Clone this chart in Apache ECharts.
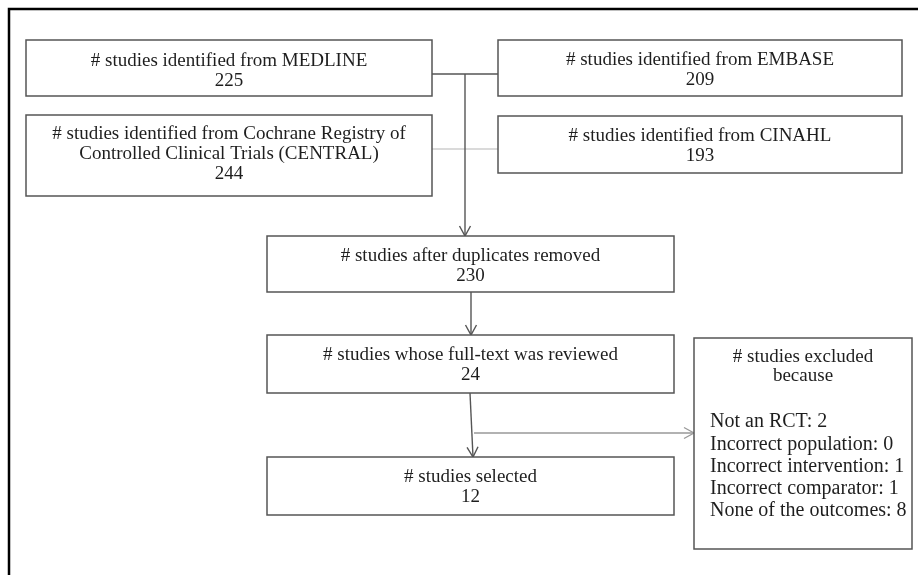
<!DOCTYPE html>
<html>
<head>
<meta charset="utf-8">
<script src="https://cdn.jsdelivr.net/npm/echarts@6/dist/echarts.min.js"></script>
<style>html,body{margin:0;padding:0;background:#fff}#c{width:918px;height:575px}</style>
</head>
<body>
<div id="c"></div>
<script>
// ---- data ----
const sourceNames = ['MEDLINE', 'EMBASE', 'Cochrane Registry of\nControlled Clinical Trials (CENTRAL)', 'CINAHL'];
const sourceCounts = [225, 209, 244, 193];
const stageLabels = ['# studies after duplicates removed', '# studies whose full-text was reviewed', '# studies selected'];
const stageCounts = [230, 24, 12];
const exclusionTitle = '# studies excluded\nbecause';
const exclusionReasons = ['Not an RCT', 'Incorrect population', 'Incorrect intervention', 'Incorrect comparator', 'None of the outcomes'];
const exclusionCounts = [2, 0, 1, 1, 8];

// ---- layout (positions in page units) ----
const boxLayout = [
  {x0: 26, y0: 40, x1: 432, y1: 96, dy: 3},    // MEDLINE
  {x0: 498, y0: 40, x1: 902, y1: 96, dy: 2},   // EMBASE
  {x0: 26, y0: 115, x1: 432, y1: 196, dy: -1},  // Cochrane
  {x0: 498, y0: 116, x1: 902, y1: 173, dy: 2}, // CINAHL
  {x0: 267, y0: 236, x1: 674, y1: 292, dy: 2}, // after duplicates
  {x0: 267, y0: 335, x1: 674, y1: 393, dy: 1}, // full text
  {x0: 267, y0: 457, x1: 674, y1: 515, dy: 1}  // selected
];
const exclLayout = {x0: 694, y0: 338, x1: 912, y1: 549, titleY: 367, listX: 710, listY: 422, listStep: 22.3};
const connectors = [
  {pts: [[432, 74], [498, 74]], color: '#555', w: 1.4, arrow: false},
  {pts: [[432, 149], [498, 149]], color: '#b5b5b5', w: 1.2, arrow: false},
  {pts: [[465, 74], [465, 236]], color: '#555', w: 1.4, arrow: true},
  {pts: [[471, 292], [471, 335]], color: '#555', w: 1.4, arrow: true},
  {pts: [[470, 393], [473, 457]], color: '#555', w: 1.4, arrow: true},
  {pts: [[474, 433], [694, 433]], color: '#999', w: 1.3, arrow: true}
];
const frame = [[9, 575], [9, 9], [918, 9]];

const boxTexts = [
  '# studies identified from ' + sourceNames[0] + '\n' + sourceCounts[0],
  '# studies identified from ' + sourceNames[1] + '\n' + sourceCounts[1],
  '# studies identified from ' + sourceNames[2] + '\n' + sourceCounts[2],
  '# studies identified from ' + sourceNames[3] + '\n' + sourceCounts[3],
  stageLabels[0] + '\n' + stageCounts[0],
  stageLabels[1] + '\n' + stageCounts[1],
  stageLabels[2] + '\n' + stageCounts[2]
];

const FONT = '19px "Liberation Serif", serif';
const TXT = '#1e1e1e';

const chart = echarts.init(document.getElementById('c'), null, {renderer: 'canvas'});

function renderBox(params, api) {
  const i = params.dataIndex;
  const b = boxLayout[i];
  const p0 = api.coord([b.x0, b.y0]);
  const p1 = api.coord([b.x1, b.y1]);
  return {
    type: 'group',
    children: [
      {type: 'rect', shape: {x: p0[0], y: p0[1], width: p1[0] - p0[0], height: p1[1] - p0[1]},
       style: {fill: '#fff', stroke: '#555', lineWidth: 1.5}},
      {type: 'text', style: {text: boxTexts[i], x: (p0[0] + p1[0]) / 2, y: (p0[1] + p1[1]) / 2 + b.dy,
        align: 'center', verticalAlign: 'middle', font: FONT, lineHeight: 20, fill: TXT}}
    ]
  };
}

function renderExcl(params, api) {
  const b = exclLayout;
  const p0 = api.coord([b.x0, b.y0]);
  const p1 = api.coord([b.x1, b.y1]);
  const tp = api.coord([(b.x0 + b.x1) / 2, b.titleY]);
  const children = [
    {type: 'rect', shape: {x: p0[0], y: p0[1], width: p1[0] - p0[0], height: p1[1] - p0[1]},
     style: {fill: '#fff', stroke: '#555', lineWidth: 1.5}},
    {type: 'text', style: {text: exclusionTitle, x: tp[0], y: tp[1], align: 'center', verticalAlign: 'middle',
      font: FONT, lineHeight: 19, fill: TXT}}
  ];
  exclusionReasons.forEach(function (r, k) {
    const lp = api.coord([b.listX, b.listY + k * b.listStep]);
    children.push({type: 'text', style: {text: r + ': ' + exclusionCounts[k], x: lp[0], y: lp[1],
      align: 'left', verticalAlign: 'middle', font: '20px "Liberation Serif", serif', fill: TXT}});
  });
  return {type: 'group', children: children};
}

function renderConn(params, api) {
  const c = connectors[params.dataIndex];
  const pts = c.pts.map(function (p) { return api.coord(p); });
  const children = [{type: 'polyline', shape: {points: pts}, style: {stroke: c.color, lineWidth: c.w, fill: null}}];
  if (c.arrow) {
    const a = pts[pts.length - 2], e = pts[pts.length - 1];
    const dx = e[0] - a[0], dy = e[1] - a[1];
    const L = Math.sqrt(dx * dx + dy * dy);
    const ux = dx / L, uy = dy / L;
    const len = 10, hw = 5.5;
    const l = [e[0] - ux * len - uy * hw, e[1] - uy * len + ux * hw];
    const r = [e[0] - ux * len + uy * hw, e[1] - uy * len - ux * hw];
    children.push({type: 'polyline', shape: {points: [l, e, r]}, style: {stroke: c.color, lineWidth: c.w, fill: null}});
  }
  return {type: 'group', children: children};
}

function renderFrame(params, api) {
  const pts = frame.map(function (p) { return api.coord(p); });
  return {type: 'polyline', shape: {points: pts}, style: {stroke: '#000', lineWidth: 2.5, fill: null}};
}

chart.setOption({
  animation: false,
  backgroundColor: '#fff',
  grid: {left: 0, right: 0, top: 0, bottom: 0},
  xAxis: {type: 'value', min: 0, max: 918, show: false},
  yAxis: {type: 'value', min: 0, max: 575, inverse: true, show: false},
  series: [
    {type: 'custom', renderItem: renderFrame, data: [0], clip: false, z: 1},
    {type: 'custom', renderItem: renderConn, data: connectors.map(function (_, i) { return i; }), clip: false, z: 2},
    {type: 'custom', renderItem: renderBox, data: boxTexts.map(function (_, i) { return i; }), clip: false, z: 3},
    {type: 'custom', renderItem: renderExcl, data: [0], clip: false, z: 3}
  ]
});
</script>
</body>
</html>
